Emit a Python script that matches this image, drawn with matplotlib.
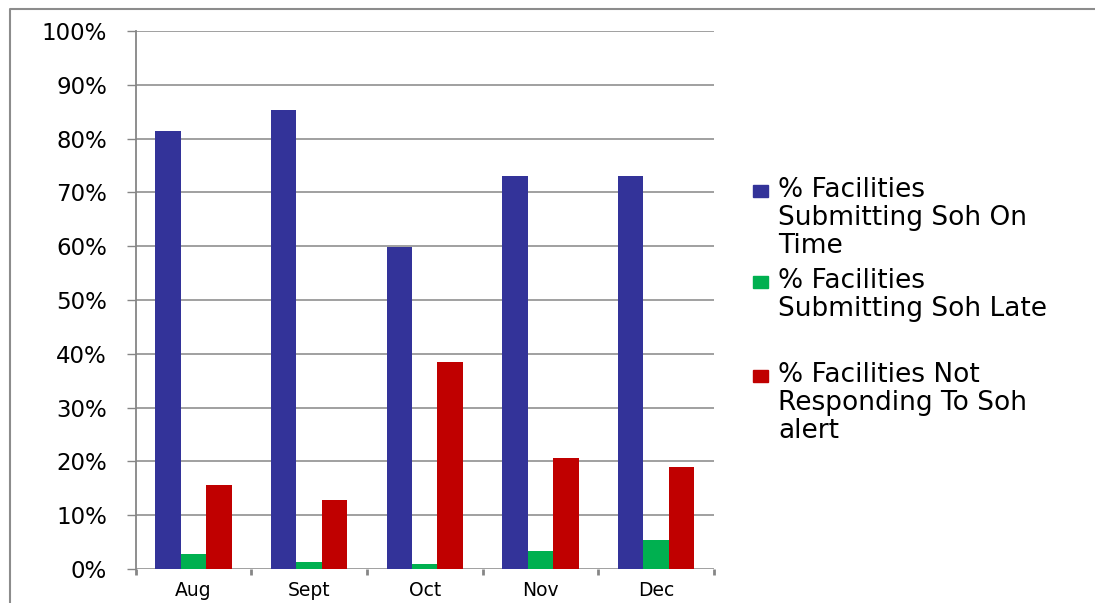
import matplotlib.pyplot as plt
import numpy as np
from matplotlib.lines import Line2D
from matplotlib.patches import Rectangle

plt.rcParams['font.family'] = ['DejaVu Sans']

months = ['Aug', 'Sept', 'Oct', 'Nov', 'Dec']
on_time = [81.4, 85.3, 59.8, 73.0, 73.0]
late = [2.7, 1.25, 0.9, 3.3, 5.35]
not_responding = [15.6, 12.8, 38.5, 20.7, 19.0]

series_labels = ['% Facilities\nSubmitting Soh On\nTime',
                 '% Facilities\nSubmitting Soh Late',
                 '% Facilities Not\nResponding To Soh\nalert']
colors = ['#333399', '#00B050', '#C00000']
y_ticks = [0, 10, 20, 30, 40, 50, 60, 70, 80, 90, 100]

W, H = 1095, 603
fig = plt.figure(figsize=(W / 100, H / 100), dpi=100)
fig.patch.set_facecolor('white')

# plot area in pixels
left, right, top, bottom = 135.5, 714, 31, 569
ax = fig.add_axes([left / W, 1 - bottom / H, (right - left) / W, (bottom - top) / H])

x = np.arange(len(months))
w = 0.22
for i, vals in enumerate([on_time, late, not_responding]):
    ax.bar(x + (i - 1) * w, vals, width=w, color=colors[i], zorder=3)

ax.set_xlim(-0.5, len(months) - 0.5)
ax.set_ylim(0, 100)

grid_c = '#868686'
ax.set_yticks(y_ticks)
ax.set_yticklabels(['%d%%' % v for v in y_ticks])
ax.yaxis.grid(True, color=grid_c, linewidth=1.1, zorder=0)
ax.tick_params(axis='y', length=6.5, width=1, color=grid_c, pad=14,
               labelsize=16.5, labelcolor='black')

# category boundaries get the ticks, centers get the labels
ax.set_xticks(np.arange(len(months) + 1) - 0.5)
ax.set_xticklabels([])
ax.set_xticks(x, minor=True)
ax.set_xticklabels(months, minor=True)
ax.tick_params(axis='x', which='major', length=4, width=2, color=grid_c)
ax.tick_params(axis='x', which='minor', length=0, pad=9, labelsize=13.5)

for s in ['top', 'right', 'bottom']:
    ax.spines[s].set_visible(False)
ax.spines['left'].set_color(grid_c)
ax.spines['left'].set_linewidth(1.3)

# legend drawn by hand: square at the first line of each entry
leg_tops = [177, 268, 362]
for lab, c, t in zip(series_labels, colors, leg_tops):
    fig.patches.append(Rectangle((753 / W, 1 - (t + 20) / H), 15 / W, 12 / H,
                                 transform=fig.transFigure, color=c))
    fig.text(778 / W, 1 - t / H, lab, fontsize=19, va='top', ha='left',
             linespacing=1.1)

# outer frame
fig.lines.append(Line2D([10 / W, 10 / W, 1.0], [0.0, 1 - 9 / H, 1 - 9 / H],
                        transform=fig.transFigure, color='#8c8c8c', linewidth=1.5))

fig.savefig('out.png', dpi=100)
